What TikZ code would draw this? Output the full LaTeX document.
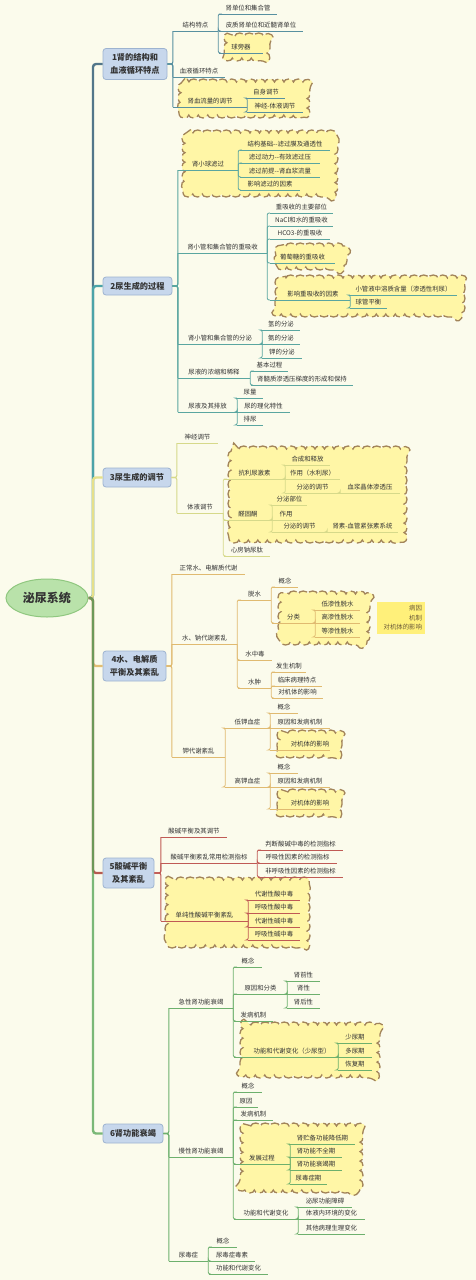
\documentclass[tikz,border=0pt]{standalone}
\usepackage{fontspec}
\newfontfamily\cjk{Noto Sans CJK SC}
\usetikzlibrary{shapes.geometric,decorations.pathmorphing}
\definecolor{bg}{HTML}{FBFBEC}
\definecolor{txt}{HTML}{333333}
\definecolor{s1}{HTML}{5790A0}
\definecolor{s2}{HTML}{5AA6A0}
\definecolor{s3}{HTML}{D6D98A}
\definecolor{s4}{HTML}{E0BA70}
\definecolor{s5}{HTML}{C05A55}
\definecolor{s6}{HTML}{6DB06D}
\definecolor{t1}{HTML}{52768A}
\definecolor{t2}{HTML}{4BA3A8}
\definecolor{t3}{HTML}{E5E08A}
\definecolor{t4}{HTML}{E2BE74}
\definecolor{t5}{HTML}{B65A50}
\definecolor{t6}{HTML}{5AA85A}
\definecolor{boxf}{HTML}{C7D7EC}
\definecolor{boxd}{HTML}{9DB3D0}
\definecolor{cloudf}{HTML}{FFF6A6}
\definecolor{cloudd}{HTML}{A2845A}
\definecolor{rootf}{HTML}{B9E2AA}
\definecolor{rootd}{HTML}{8FC77F}
\definecolor{ybox}{HTML}{FFF07A}
\definecolor{ytxt}{HTML}{6B5A3A}
\colorlet{sc}{s1}
\tikzset{
  tnode/.style={anchor=south, inner xsep=0pt, inner ysep=2pt, text height=5.2pt, text depth=1.2pt,
    font=\cjk\fontsize{6.4}{7}\selectfont, text=txt},
  ul/.style={draw=sc, line width=0.8pt},
  conn/.style={draw=sc, line width=0.8pt, rounded corners=2pt},
  bconn/.style={draw=sc, line width=1.1pt, rounded corners=2pt},
  trk/.style={line width=2.4pt, rounded corners=3pt},
  topic/.style={draw=boxd, fill=boxf, rounded corners=3pt, line width=0.8pt, align=center,
    font=\cjk\bfseries\fontsize{8.2}{13}\selectfont, text=txt, inner sep=0pt},
  cloudy/.style={draw=cloudd, fill=cloudf, dash pattern=on 9pt off 4pt, line width=1.3pt,
    decoration={bumps, segment length=19pt, amplitude=3pt}},
}
\newcommand\tn[6][0]{\node[tnode,minimum width={(#4)-(#3)}] (#2) at ({((#3)+(#4))/2},#5) {\hspace*{#1pt}#6};
  \draw[ul] (#2.south west) -- (#2.south east);}
\newcommand\cn[2]{\draw[conn] (#1.south east) |- (#2.south west);}
\newcommand\bcn[2]{\draw[bconn] (#1.east) -| (#2.south west);}
\newcommand\cloudbg[4]{%
  \pgfmathsetmacro\xa{#1-#3/2+3}\pgfmathsetmacro\xb{#1+#3/2-3}%
  \pgfmathsetmacro\ya{#2-#4/2+3}\pgfmathsetmacro\yb{#2+#4/2-3}%
  \pgfmathsetmacro\xar{\xa+8}\pgfmathsetmacro\xbr{\xb-8}%
  \pgfmathsetmacro\yar{\ya+8}\pgfmathsetmacro\ybr{\yb-8}%
  \draw[cloudy] decorate {(\xar,\ya) -- (\xbr,\ya) .. controls (\xb,\ya) .. (\xb,\yar) -- (\xb,\ybr)
    .. controls (\xb,\yb) .. (\xbr,\yb) -- (\xar,\yb) .. controls (\xa,\yb) .. (\xa,\ybr)
    -- (\xa,\yar) .. controls (\xa,\ya) .. (\xar,\ya)} -- cycle;}
\begin{document}
\begin{tikzpicture}[x=1pt,y=-1pt]
\fill[bg] (0,0) rectangle (476,1280);
\useasboundingbox (0,0) rectangle (476,1280);

% clouds
\cloudbg{247}{47}{46}{28}
\cloudbg{244}{98.5}{132}{39}
\cloudbg{260}{163.5}{156}{67}
\cloudbg{311}{256.5}{72}{27}
\cloudbg{370}{296}{190}{42}
\cloudbg{317.5}{494.5}{179}{97}
\cloudbg{324}{618}{92}{54}
\cloudbg{309.5}{744}{65}{28}
\cloudbg{309.5}{803}{65}{28}
\cloudbg{237.5}{912.5}{145}{71}
\cloudbg{310}{1050}{140}{56}
\cloudbg{301.5}{1158}{123}{70}

% root and topics
\node[ellipse, draw=rootd, fill=rootf, line width=1pt, minimum width=82, minimum height=38, inner sep=0pt,
  font=\cjk\bfseries\fontsize{12}{14}\selectfont, text=txt] (root) at (47,598) {泌尿系统};
\coordinate (tr) at (93,598);
\node[topic, minimum width=64, minimum height=31] (B1) at (135,64) {1肾的结构和\\血液循环特点};
\node[topic, minimum width=69, minimum height=18] (B2) at (137.5,286) {2尿生成的过程};
\node[topic, minimum width=68, minimum height=19] (B3) at (137,477.5) {3尿生成的调节};
\node[topic, minimum width=63, minimum height=30] (B4) at (134.5,666) {4水、电解质\\平衡及其紊乱};
\node[topic, minimum width=51, minimum height=30] (B5) at (128.5,873) {5酸碱平衡\\及其紊乱};
\node[topic, minimum width=60, minimum height=19] (B6) at (133,1133.5) {6肾功能衰竭};

\draw[trk, draw=t1] (root.east) -- (tr) |- (B1.west);
\draw[trk, draw=t2] (root.east) -- (tr) |- (B2.west);
\draw[trk, draw=t3] (root.east) -- (tr) |- (B3.west);
\draw[trk, draw=t4] (root.east) -- (tr) |- (B4.west);
\draw[trk, draw=t5] (root.east) -- (tr) |- (B5.west);
\draw[trk, draw=t6, draw opacity=0.8] (root.east) -- (tr) |- (B6.west);

% section 1
\colorlet{sc}{s1}
\tn{a1}{173}{218}{31}{结构特点}
\tn{a11}{219}{277}{14}{肾单位和集合管}
\tn{a12}{219}{303}{31}{皮质肾单位和近髓肾单位}
\tn{a13}{219}{263}{53}{球旁器}
\tn{a2}{173}{225}{77}{血液循环特点}
\tn{a3}{173}{247}{107}{肾血流量的调节}
\tn{a31}{247}{285}{98}{自身调节}
\tn{a32}{247}{303}{112}{神经-体液调节}
\bcn{B1}{a1}\bcn{B1}{a2}\bcn{B1}{a3}
\cn{a1}{a11}\cn{a1}{a12}\cn{a1}{a13}
\cn{a3}{a31}\cn{a3}{a32}

% section 2
\colorlet{sc}{s2}
\tn{b1n}{178}{238}{170}{肾小球滤过}
\tn{b11}{240}{330}{150}{结构基础-{}-滤过膜及通透性}
\tn{b12}{240}{320}{163}{滤过动力-{}-有效滤过压}
\tn{b13}{240}{320}{177}{滤过前提-{}-肾血浆流量}
\tn{b14}{240}{300}{190}{影响滤过的因素}
\tn{b2n}{178}{267}{253}{肾小管和集合管的重吸收}
\tn{b21}{270}{333}{213}{重吸收的主要部位}
\tn{b22}{270}{333}{226}{NaCl和水的重吸收}
\tn{b23}{270}{330}{239}{HCO3-的重吸收}
\tn{b24}{270}{335}{263}{葡萄糖的重吸收}
\tn[6]{b25}{270}{350}{300}{影响重吸收的因素}
\tn{b251}{350}{457}{295}{小管液中溶质含量（渗透性利尿）}
\tn{b252}{350}{387}{308}{球管平衡}
\tn{b3n}{178}{262}{344}{肾小管和集合管的分泌}
\tn{b31}{262}{300}{330}{氢的分泌}
\tn{b32}{262}{300}{344}{氨的分泌}
\tn{b33}{262}{302}{358}{钾的分泌}
\tn{b4n}{178}{250}{378}{尿液的浓缩和稀释}
\tn{b41}{251}{288}{371}{基本过程}
\tn{b42}{251}{353}{385}{肾髓质渗透压梯度的形成和保持}
\tn{b5n}{178}{237}{412}{尿液及其排放}
\tn{b51}{237}{263}{398}{尿量}
\tn{b52}{237}{290}{412}{尿的理化特性}
\tn{b53}{237}{263}{425}{排尿}
\bcn{B2}{b1n}\bcn{B2}{b2n}\bcn{B2}{b3n}\bcn{B2}{b4n}\bcn{B2}{b5n}
\cn{b1n}{b11}\cn{b1n}{b12}\cn{b1n}{b13}\cn{b1n}{b14}
\cn{b2n}{b21}\cn{b2n}{b22}\cn{b2n}{b23}\cn{b2n}{b24}\cn{b2n}{b25}
\cn{b25}{b251}\cn{b25}{b252}
\cn{b3n}{b31}\cn{b3n}{b32}\cn{b3n}{b33}
\cn{b4n}{b41}\cn{b4n}{b42}
\cn{b5n}{b51}\cn{b5n}{b52}\cn{b5n}{b53}

% section 3
\colorlet{sc}{s3}
\tn{c1n}{177}{218}{443}{神经调节}
\tn{c2n}{177}{223}{513}{体液调节}
\tn{c21}{224}{285}{479}{抗利尿激素}
\tn{c211}{285}{330}{465}{合成和释放}
\tn{c212}{285}{340}{479}{作用（水利尿）}
\tn{c213}{285}{340}{493}{分泌的调节}
\tn{c2131}{340}{400}{493}{血浆晶体渗透压}
\tn{c22}{224}{272}{520}{醛固酮}
\tn{c221}{272}{307}{505}{分泌部位}
\tn{c222}{272}{300}{520}{作用}
\tn{c223}{272}{327}{532}{分泌的调节}
\tn{c2231}{327}{398}{532}{肾素-血管紧张素系统}
\tn{c23}{224}{270}{556}{心房钠尿肽}
\bcn{B3}{c1n}\bcn{B3}{c2n}
\cn{c2n}{c21}\cn{c2n}{c22}\cn{c2n}{c23}
\cn{c21}{c211}\cn{c21}{c212}\cn{c21}{c213}\cn{c213}{c2131}
\cn{c22}{c221}\cn{c22}{c222}\cn{c22}{c223}\cn{c223}{c2231}

% section 4
\colorlet{sc}{s4}
\tn{d1}{172}{245}{574}{正常水、电解质代谢}
\tn{d2}{172}{237}{644}{水、钠代谢紊乱}
\tn{d21}{238}{271}{600}{脱水}
\tn{d211}{272}{298}{587}{概念}
\tn{d212}{272}{315}{623}{分类}
\tn{d2121}{315}{360}{610}{低渗性脱水}
\tn{d2122}{315}{360}{623}{高渗性脱水}
\tn{d2123}{315}{360}{637}{等渗性脱水}
\tn{d22}{238}{272}{660}{水中毒}
\tn{d23}{238}{271}{688}{水肿}
\tn{d231}{272}{306}{672}{发生机制}
\tn{d232}{272}{322}{686}{临床病理特点}
\tn{d233}{272}{323}{698}{对机体的影响}
\tn{d3}{172}{225}{757}{钾代谢紊乱}
\tn{d31}{225}{270}{728}{低钾血症}
\tn{d311}{270}{298}{713}{概念}
\tn{d312}{270}{330}{728}{原因和发病机制}
\tn[20]{d313}{270}{330}{750}{对机体的影响}
\tn{d32}{225}{270}{787}{高钾血症}
\tn{d321}{270}{298}{773}{概念}
\tn{d322}{270}{330}{787}{原因和发病机制}
\tn[20]{d323}{270}{330}{809}{对机体的影响}
\bcn{B4}{d1}\bcn{B4}{d2}\bcn{B4}{d3}
\cn{d2}{d21}\cn{d2}{d22}\cn{d2}{d23}
\cn{d21}{d211}\cn{d21}{d212}
\cn{d212}{d2121}\cn{d212}{d2122}\cn{d212}{d2123}
\cn{d23}{d231}\cn{d23}{d232}\cn{d23}{d233}
\cn{d3}{d31}\cn{d3}{d32}
\cn{d31}{d311}\cn{d31}{d312}\cn{d31}{d313}
\cn{d32}{d321}\cn{d32}{d322}\cn{d32}{d323}
\node[fill=ybox, minimum width=48, minimum height=32, inner sep=0pt, text width=42pt, align=right,
  font=\cjk\fontsize{6.4}{9.5}\selectfont, text=ytxt] (yb) at (401,618) {病因\\机制\\对机体的影响};

% section 5
\colorlet{sc}{s5}
\tn{e1}{161}{227}{837}{酸碱平衡及其调节}
\tn{e2}{161}{257}{863}{酸碱平衡紊乱常用检测指标}
\tn{e21}{258}{343}{850}{判断酸碱中毒的检测指标}
\tn{e22}{258}{337}{863}{呼吸性因素的检测指标}
\tn{e23}{258}{343}{877}{非呼吸性因素的检测指标}
\tn{e3}{161}{248}{921}{单纯性酸碱平衡紊乱}
\tn{e31}{248}{300}{900}{代谢性酸中毒}
\tn{e32}{248}{300}{913}{呼吸性酸中毒}
\tn{e33}{248}{300}{927}{代谢性碱中毒}
\tn{e34}{248}{300}{940}{呼吸性碱中毒}
\bcn{B5}{e1}\bcn{B5}{e2}\bcn{B5}{e3}
\cn{e2}{e21}\cn{e2}{e22}\cn{e2}{e23}
\cn{e3}{e31}\cn{e3}{e32}\cn{e3}{e33}\cn{e3}{e34}

% section 6
\colorlet{sc}{s6}
\tn{f1}{169}{233}{1008}{急性肾功能衰竭}
\tn{f11}{234}{262}{967}{概念}
\tn{f12}{234}{287}{994}{原因和分类}
\tn{f121}{287}{320}{981}{肾前性}
\tn{f122}{287}{320}{994}{肾性}
\tn{f123}{287}{320}{1008}{肾后性}
\tn{f13}{234}{273}{1021}{发病机制}
\tn[12]{f14}{234}{338}{1057}{功能和代谢变化（少尿型）}
\tn{f141}{338}{372}{1043}{少尿期}
\tn{f142}{338}{372}{1057}{多尿期}
\tn{f143}{338}{372}{1070}{恢复期}
\tn{f2}{169}{233}{1157}{慢性肾功能衰竭}
\tn{f21}{234}{262}{1092}{概念}
\tn{f22}{234}{258}{1107}{原因}
\tn{f23}{234}{273}{1120}{发病机制}
\tn{f24}{234}{290}{1164}{发展过程}
\tn{f241}{290}{355}{1144}{肾贮备功能降低期}
\tn{f242}{290}{342}{1157}{肾功能不全期}
\tn{f243}{290}{342}{1170}{肾功能衰竭期}
\tn{f244}{290}{327}{1184}{尿毒症期}
\tn{f25}{234}{298}{1219}{功能和代谢变化}
\tn{f251}{298}{352}{1207}{泌尿功能障碍}
\tn{f252}{298}{365}{1219}{体液内环境的变化}
\tn{f253}{298}{365}{1234}{其他病理生理变化}
\tn{f3}{169}{208}{1261}{尿毒症}
\tn{f31}{209}{237}{1247}{概念}
\tn{f32}{209}{255}{1261}{尿毒症毒素}
\tn{f33}{209}{268}{1274}{功能和代谢变化}
\bcn{B6}{f1}\bcn{B6}{f2}\bcn{B6}{f3}
\cn{f1}{f11}\cn{f1}{f12}\cn{f1}{f13}\cn{f1}{f14}
\cn{f12}{f121}\cn{f12}{f122}\cn{f12}{f123}
\cn{f14}{f141}\cn{f14}{f142}\cn{f14}{f143}
\cn{f2}{f21}\cn{f2}{f22}\cn{f2}{f23}\cn{f2}{f24}\cn{f2}{f25}
\cn{f24}{f241}\cn{f24}{f242}\cn{f24}{f243}\cn{f24}{f244}
\cn{f25}{f251}\cn{f25}{f252}\cn{f25}{f253}
\cn{f3}{f31}\cn{f3}{f32}\cn{f3}{f33}
\end{tikzpicture}
\end{document}
